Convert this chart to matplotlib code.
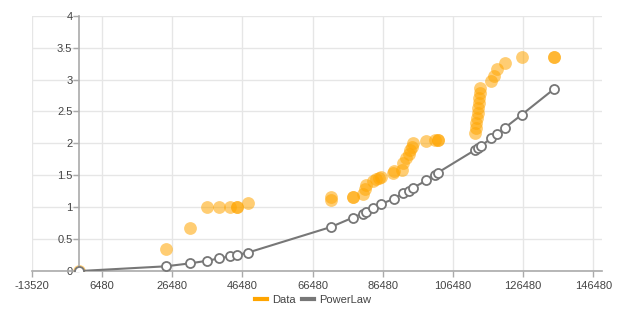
import matplotlib
matplotlib.use("Agg")
from matplotlib import pyplot as plot
from matplotlib.lines import Line2D

plot.rcParams['font.family'] = ['Liberation Sans', 'DejaVu Sans']

# observed data (orange)
data_x = [0, 24626, 31473, 36321, 39920, 42970, 44880, 45000, 48105,
          71699, 71699, 77866, 78000, 80720, 81400, 81690, 83775, 84500, 85500, 85965,
          89300, 89570, 91950, 92240, 93190, 93850, 94330, 94800, 94990,
          98900, 101380, 102130, 102200,
          112870, 113000, 113100, 113300, 113500, 113600, 113800, 114000, 114100, 114300,
          117440, 118100, 119070, 121160, 126100, 135230, 135300]
data_y = [0, 0.345, 0.67, 1.0, 1.0, 1.0, 1.0, 1.0, 1.06,
          1.16, 1.11, 1.16, 1.16, 1.20, 1.28, 1.35, 1.41, 1.44, 1.45, 1.48,
          1.53, 1.57, 1.58, 1.69, 1.77, 1.83, 1.89, 1.95, 2.01,
          2.03, 2.06, 2.06, 2.06,
          2.16, 2.24, 2.32, 2.40, 2.47, 2.55, 2.63, 2.71, 2.79, 2.86,
          2.97, 3.06, 3.17, 3.26, 3.36, 3.36, 3.36]

# power law fit (grey)
fit_x = [0, 24626, 31473, 36321, 39920, 42970, 44880, 48105,
         71699, 77866, 80720, 81690, 83775, 85965, 89570, 92335, 93850, 94990,
         98900, 101380, 102130, 112870, 113530, 114390, 117440, 119070, 121160,
         126100, 135230]
fit_y = [0, 0.074, 0.12, 0.16, 0.20, 0.23, 0.25, 0.29,
         0.69, 0.835, 0.90, 0.925, 0.98, 1.05, 1.13, 1.22, 1.26, 1.30,
         1.42, 1.51, 1.54, 1.90, 1.92, 1.96, 2.08, 2.14, 2.24,
         2.45, 2.85]

x_ticks = [-13520 + 20000 * k for k in range(9)]
y_ticks = [0, 0.5, 1, 1.5, 2, 2.5, 3, 3.5, 4]

ORANGE = "#FFA500"
GREY = "#777777"
TEXT = "#444444"


def main():
    figure = plot.figure(figsize=(6.26, 3.2), dpi=100)
    axis = figure.add_axes([0.051, 0.153, 0.911, 0.798])

    axis.scatter(data_x, data_y, s=85, color=ORANGE, alpha=0.55, linewidths=0,
                 zorder=2, label="Data")
    axis.plot(fit_x, fit_y, color=GREY, linewidth=1.5, marker="o", markersize=6.5,
              markerfacecolor="white", markeredgecolor=GREY, markeredgewidth=1.3,
              zorder=3, label="PowerLaw")

    axis.set_xlim(-13520, 149000)
    axis.set_ylim(0, 4)
    axis.set_xticks(x_ticks)
    axis.set_xticklabels([str(t) for t in x_ticks])
    axis.set_yticks(y_ticks)
    axis.set_yticklabels([f"{t:g}" for t in y_ticks])

    axis.grid(True, color="#e6e6e6", linewidth=1)
    axis.set_axisbelow(True)
    for side in ["top", "right"]:
        axis.spines[side].set_visible(False)
    axis.spines["left"].set_position(("data", 0))
    for side in ["left", "bottom"]:
        axis.spines[side].set_color("#aaaaaa")
        axis.spines[side].set_linewidth(1.2)
    axis.tick_params(axis="both", colors="#aaaaaa", labelcolor=TEXT, labelsize=8,
                     length=4, width=1)
    axis.tick_params(axis="y", pad=1)

    #legend handles as short lines
    handles = [Line2D([], [], color=ORANGE, linewidth=3),
               Line2D([], [], color=GREY, linewidth=3)]
    figure.legend(handles, ["Data", "PowerLaw"], loc="center", bbox_to_anchor=(0.5, 0.062),
                  ncol=2, frameon=False, fontsize=8, handlelength=1.1,
                  handletextpad=0.4, columnspacing=0.6, labelcolor=TEXT)

    figure.savefig("out.png", dpi=100)


if (__name__ == "__main__"):
    main()
